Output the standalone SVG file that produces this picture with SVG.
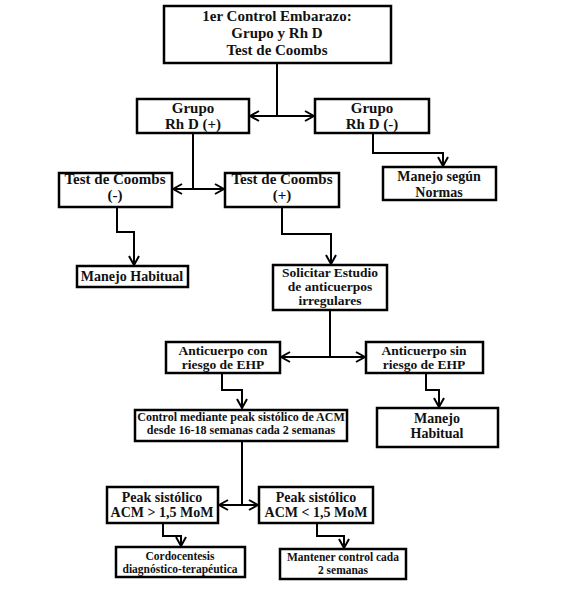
<svg xmlns="http://www.w3.org/2000/svg" width="569" height="593" viewBox="0 0 569 593">
<defs>
<style>
.box{fill:#fff;stroke:#000;stroke-width:2.5}
.t{font-size:14px;fill:#111;text-anchor:middle}
.t15{font-size:15px}
.t13{font-size:13.5px}
.t12{font-size:12px}
.t11{font-size:11.5px}
.c{fill:none;stroke:#000;stroke-width:2}
</style>
<marker id="ah" viewBox="0 0 12 12" refX="11" refY="6" markerWidth="12" markerHeight="12" markerUnits="userSpaceOnUse" orient="auto-start-reverse">
<path d="M2,1 L11,6 L2,11" fill="none" stroke="#000" stroke-width="2"/>
</marker>
</defs>
<rect width="569" height="593" fill="#fff"/>
<g id="connectors">
<path class="c" d="M277,63 V116"/>
<path class="c" d="M250,116 H314" marker-start="url(#ah)" marker-end="url(#ah)"/>
<path class="c" d="M193,133 V189"/>
<path class="c" d="M173,189 H224" marker-start="url(#ah)" marker-end="url(#ah)"/>
<path class="c" d="M373,133 V153 H443 V166" marker-end="url(#ah)"/>
<path class="c" d="M117,207 V232 H134 V265" marker-end="url(#ah)"/>
<path class="c" d="M282,207 V234 H331 V264" marker-end="url(#ah)"/>
<path class="c" d="M330,310 V357"/>
<path class="c" d="M281,357 H365" marker-start="url(#ah)" marker-end="url(#ah)"/>
<path class="c" d="M222,373 V390 H242 V408" marker-end="url(#ah)"/>
<path class="c" d="M426,373 V390 H439 V407" marker-end="url(#ah)"/>
<path class="c" d="M242,441 V505"/>
<path class="c" d="M219,505 H258" marker-start="url(#ah)" marker-end="url(#ah)"/>
<path class="c" d="M163,523 V536 H181 V546" marker-end="url(#ah)"/>
<path class="c" d="M317,523 V536 H344 V548" marker-end="url(#ah)"/>
</g>
<g id="nodes" font-family="Liberation Serif, Times New Roman, serif" font-weight="bold">
<g id="n1"><rect class="box" x="164" y="6" width="227" height="57"/>
<text class="t t15" x="277" y="21">1er Control Embarazo:</text>
<text class="t t15" x="277" y="38">Grupo y Rh D</text>
<text class="t t15" x="277" y="55">Test de Coombs</text></g>
<g id="n2"><rect class="box" x="137" y="99" width="112" height="34"/>
<text class="t t15" x="193" y="113">Grupo</text>
<text class="t t15" x="193" y="129">Rh D (+)</text></g>
<g id="n3"><rect class="box" x="315" y="99" width="114" height="34"/>
<text class="t t15" x="372" y="113">Grupo</text>
<text class="t t15" x="372" y="129">Rh D (-)</text></g>
<g id="n4"><rect class="box" x="59" y="173" width="113" height="34"/>
<text class="t t15" x="115" y="184">Test de Coombs</text>
<text class="t t15" x="115" y="200">(-)</text></g>
<g id="n5"><rect class="box" x="225" y="173" width="114" height="34"/>
<text class="t t15" x="282" y="184">Test de Coombs</text>
<text class="t t15" x="282" y="200">(+)</text></g>
<g id="n6"><rect class="box" x="383" y="167" width="113" height="33"/>
<text class="t" x="439" y="181">Manejo según</text>
<text class="t" x="439" y="197">Normas</text></g>
<g id="n7"><rect class="box" x="77" y="266" width="111" height="21"/>
<text class="t" x="132" y="281">Manejo Habitual</text></g>
<g id="n8"><rect class="box" x="273" y="265" width="114" height="45"/>
<text class="t t13" x="330" y="277">Solicitar Estudio</text>
<text class="t t13" x="330" y="291">de anticuerpos</text>
<text class="t t13" x="330" y="305">irregulares</text></g>
<g id="n9"><rect class="box" x="166" y="342" width="114" height="31"/>
<text class="t t13" x="223" y="355">Anticuerpo con</text>
<text class="t t13" x="223" y="369">riesgo de EHP</text></g>
<g id="n10"><rect class="box" x="366" y="342" width="117" height="31"/>
<text class="t t13" x="424" y="355">Anticuerpo sin</text>
<text class="t t13" x="424" y="369">riesgo de EHP</text></g>
<g id="n11"><rect class="box" x="135" y="410" width="212" height="31"/>
<text class="t t12" x="241" y="421">Control mediante peak sistólico de ACM</text>
<text class="t t12" x="241" y="434">desde 16-18 semanas cada 2 semanas</text></g>
<g id="n12"><rect class="box" x="377" y="408" width="121" height="39"/>
<text class="t" x="437" y="423">Manejo</text>
<text class="t" x="437" y="438">Habitual</text></g>
<g id="n13"><rect class="box" x="107" y="487" width="111" height="36"/>
<text class="t" x="162" y="502">Peak sistólico</text>
<text class="t" x="162" y="517">ACM &gt; 1,5 MoM</text></g>
<g id="n14"><rect class="box" x="259" y="487" width="114" height="36"/>
<text class="t" x="316" y="502">Peak sistólico</text>
<text class="t" x="316" y="517">ACM &lt; 1,5 MoM</text></g>
<g id="n15"><rect class="box" x="116" y="547" width="129" height="30"/>
<text class="t t11" x="180" y="560">Cordocentesis</text>
<text class="t t11" x="180" y="573">diagnóstico-terapéutica</text></g>
<g id="n16"><rect class="box" x="280" y="549" width="126" height="30"/>
<text class="t t11" x="343" y="561">Mantener control cada</text>
<text class="t t11" x="343" y="574">2 semanas</text></g>
</g>
</svg>
